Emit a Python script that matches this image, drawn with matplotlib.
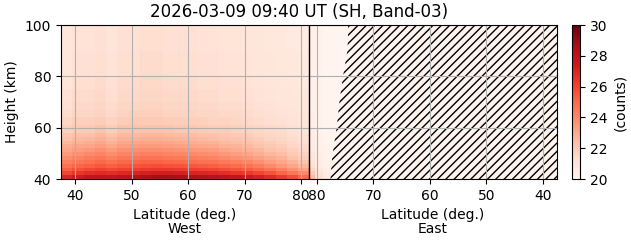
import matplotlib
matplotlib.use("Agg")
import matplotlib.pyplot as plt
import numpy as np

# Limb scan, West branch up to the orbit's highest latitude, then East branch back down
TITLE = "2026-03-09 09:40 UT (SH, Band-03)"
POLE_LAT = 81.42      # turning point of the scan (highest latitude reached)
LAT_MIN = 37.5

height_edges = [40, 41.5, 43, 44.5, 46, 47.5, 49, 50.5, 52, 53.5, 55, 56.5, 58,
                61, 64, 67, 70, 75, 80, 90, 100]

# West branch: latitude cell edges and the profile (bottom -> top) in each cell
west_lat_edges = [37.5, 39.5, 41.5, 43.5, 45.5, 47.5, 49.5, 51.5, 53.5, 55.5, 57.5,
                  59.5, 61.5, 63.5, 65.5, 67.5, 69.5, 71.5, 73.5, 75.5, 77.5, 79.5, POLE_LAT]
west_counts = [
    [27.0, 26.0, 25.3, 24.8, 24.3, 23.9, 23.5, 23.2, 22.9, 22.6, 22.3, 22.1, 21.8, 21.6, 21.4, 21.3, 21.2, 21.0, 20.9, 20.9],
    [27.4, 26.4, 25.7, 25.1, 24.6, 24.2, 23.8, 23.4, 23.1, 22.8, 22.5, 22.3, 22.0, 21.8, 21.6, 21.5, 21.4, 21.3, 21.2, 21.1],
    [27.8, 26.7, 25.9, 25.3, 24.8, 24.4, 24.0, 23.6, 23.2, 22.9, 22.6, 22.3, 22.0, 21.8, 21.6, 21.5, 21.4, 21.3, 21.2, 21.1],
    [27.9, 26.8, 26.1, 25.5, 25.0, 24.6, 24.2, 23.8, 23.4, 23.1, 22.8, 22.5, 22.2, 21.9, 21.7, 21.6, 21.5, 21.4, 21.3, 21.2],
    [27.8, 26.7, 25.9, 25.3, 24.8, 24.3, 23.9, 23.5, 23.1, 22.8, 22.5, 22.2, 21.9, 21.7, 21.5, 21.4, 21.3, 21.2, 21.1, 21.0],
    [28.0, 26.9, 26.1, 25.5, 25.0, 24.6, 24.2, 23.8, 23.4, 23.1, 22.8, 22.5, 22.2, 21.9, 21.7, 21.6, 21.5, 21.4, 21.3, 21.2],
    [28.2, 27.0, 26.2, 25.6, 25.1, 24.6, 24.2, 23.8, 23.4, 23.1, 22.8, 22.5, 22.2, 22.0, 21.8, 21.6, 21.5, 21.4, 21.3, 21.2],
    [28.4, 27.2, 26.3, 25.7, 25.2, 24.7, 24.3, 23.9, 23.5, 23.2, 22.9, 22.6, 22.3, 22.0, 21.8, 21.7, 21.6, 21.5, 21.4, 21.3],
    [28.6, 27.3, 26.4, 25.8, 25.2, 24.7, 24.3, 23.9, 23.5, 23.2, 22.9, 22.6, 22.3, 22.0, 21.8, 21.7, 21.6, 21.5, 21.4, 21.3],
    [28.6, 27.3, 26.4, 25.7, 25.1, 24.6, 24.2, 23.8, 23.4, 23.1, 22.8, 22.5, 22.2, 21.9, 21.7, 21.6, 21.5, 21.4, 21.3, 21.2],
    [28.5, 27.2, 26.3, 25.6, 25.0, 24.5, 24.1, 23.7, 23.3, 23.0, 22.7, 22.4, 22.1, 21.9, 21.7, 21.6, 21.5, 21.4, 21.3, 21.2],
    [28.4, 27.1, 26.2, 25.5, 24.9, 24.4, 24.0, 23.6, 23.2, 22.9, 22.6, 22.4, 22.1, 21.8, 21.7, 21.6, 21.5, 21.4, 21.3, 21.2],
    [28.3, 27.0, 26.1, 25.4, 24.8, 24.3, 23.9, 23.5, 23.1, 22.8, 22.5, 22.3, 22.0, 21.8, 21.6, 21.5, 21.4, 21.3, 21.2, 21.1],
    [28.2, 26.9, 26.0, 25.3, 24.7, 24.2, 23.8, 23.4, 23.0, 22.7, 22.4, 22.2, 21.9, 21.7, 21.6, 21.5, 21.4, 21.3, 21.2, 21.1],
    [28.0, 26.7, 25.8, 25.1, 24.5, 24.0, 23.6, 23.2, 22.8, 22.5, 22.3, 22.1, 21.9, 21.7, 21.5, 21.4, 21.3, 21.2, 21.1, 21.0],
    [27.8, 26.5, 25.6, 24.9, 24.3, 23.8, 23.4, 23.0, 22.7, 22.4, 22.2, 22.0, 21.8, 21.6, 21.5, 21.4, 21.3, 21.2, 21.1, 21.0],
    [27.5, 26.3, 25.4, 24.7, 24.1, 23.6, 23.2, 22.8, 22.5, 22.3, 22.1, 21.9, 21.7, 21.5, 21.4, 21.3, 21.2, 21.1, 21.0, 20.9],
    [27.2, 26.0, 25.1, 24.4, 23.8, 23.3, 22.9, 22.6, 22.3, 22.1, 21.9, 21.7, 21.6, 21.4, 21.3, 21.2, 21.1, 21.0, 20.9, 20.9],
    [26.8, 25.6, 24.7, 24.0, 23.4, 23.0, 22.6, 22.3, 22.1, 21.9, 21.7, 21.6, 21.5, 21.3, 21.2, 21.1, 21.0, 20.9, 20.9, 20.8],
    [26.3, 25.1, 24.3, 23.6, 23.1, 22.7, 22.4, 22.1, 21.9, 21.7, 21.6, 21.5, 21.4, 21.2, 21.1, 21.0, 20.9, 20.9, 20.8, 20.8],
    [25.8, 24.6, 23.8, 23.2, 22.7, 22.3, 22.0, 21.8, 21.6, 21.5, 21.4, 21.3, 21.2, 21.1, 21.0, 20.9, 20.9, 20.8, 20.8, 20.7],
    [25.0, 24.0, 23.2, 22.6, 22.2, 21.9, 21.7, 21.5, 21.4, 21.3, 21.2, 21.1, 21.0, 20.9, 20.9, 20.8, 20.8, 20.7, 20.7, 20.6],
]

# East branch (from the turning point back towards low latitudes)
east_lat_edges = [POLE_LAT, 80.4, 78.9, 77.5, LAT_MIN]
east_counts = [
    [22.5, 22.0, 21.6, 21.3, 21.1, 20.9, 20.8, 20.7, 20.6, 20.6, 20.5, 20.5, 20.4, 20.4, 20.4, 20.3, 20.3, 20.3, 20.3, 20.3],
    [21.3, 21.0, 20.8, 20.6, 20.5, 20.4, 20.4, 20.3, 20.3, 20.3, 20.3, 20.2, 20.2, 20.2, 20.2, 20.2, 20.2, 20.2, 20.2, 20.2],
    [20.6, 20.5, 20.4, 20.3, 20.3, 20.2, 20.2, 20.2, 20.2, 20.1, 20.1, 20.1, 20.1, 20.1, 20.1, 20.1, 20.1, 20.1, 20.1, 20.1],
    [20.1, 20.1, 20.1, 20.1, 20.1, 20.1, 20.1, 20.1, 20.1, 20.1, 20.1, 20.1, 20.1, 20.1, 20.1, 20.1, 20.1, 20.1, 20.1, 20.1],
]

# no-data region on the East branch: boundary latitude at each height
nodata_heights = [40, 40.9, 48.7, 60.4, 70.8, 79.9, 90.3, 96.8, 100]
nodata_lats = [77.6, 77.6, 77.3, 76.5, 76.0, 75.4, 74.6, 74.5, 74.5]

lat_ticks = [40, 50, 60, 70, 80]


def east_x(lat):
    # East latitudes are mirrored about the turning point
    return 2 * POLE_LAT - np.asarray(lat, dtype=float)


x_edges = np.concatenate([west_lat_edges, east_x(east_lat_edges[1:])])
counts = np.array(west_counts + east_counts).T

fig = plt.figure(figsize=(6.31, 2.43), dpi=100)
ax = fig.add_axes([0.0967, 0.263, 0.786, 0.634])
cax = fig.add_axes([0.9065, 0.263, 0.0133, 0.634])

mesh = ax.pcolormesh(x_edges, height_edges, counts, cmap="Reds", vmin=20, vmax=30)

ax.fill_betweenx(nodata_heights, east_x(nodata_lats), east_x(LAT_MIN),
                 facecolor="none", edgecolor="black", hatch="////", linewidth=0)
ax.axvline(POLE_LAT, color="black", lw=1)

xt = list(lat_ticks) + list(east_x(lat_ticks))
ax.set_xticks(xt)
ax.set_xticklabels([str(t) for t in lat_ticks] * 2)
ax.set_xlim(LAT_MIN, east_x(LAT_MIN))
ax.set_ylim(40, 100)
ax.set_yticks([40, 60, 80, 100])
ax.grid(True, color="#b0b0b0", lw=0.8)
ax.set_ylabel("Height (km)")
ax.set_title(TITLE, fontsize=12, x=0.48)

ax.text(0.25, -0.19, "Latitude (deg.)\nWest", transform=ax.transAxes,
        ha="center", va="top", fontsize=10, linespacing=1.0)
ax.text(0.75, -0.19, "Latitude (deg.)\nEast", transform=ax.transAxes,
        ha="center", va="top", fontsize=10, linespacing=1.0)

cb = fig.colorbar(mesh, cax=cax, ticks=[20, 22, 24, 26, 28, 30])
cb.set_label("(counts)")

fig.savefig("out.png", dpi=100)
